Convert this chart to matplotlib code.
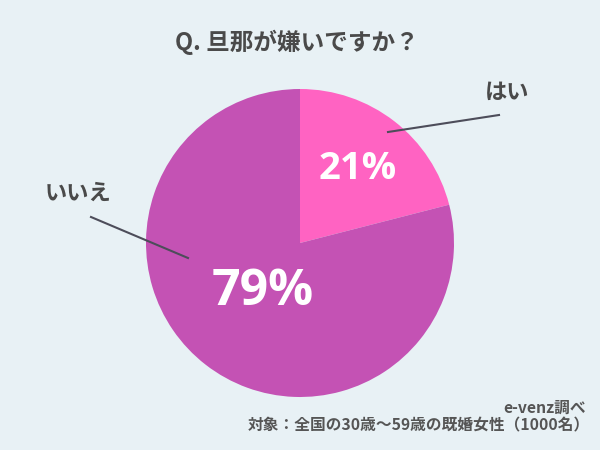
import numpy as np
import matplotlib
matplotlib.use("Agg")
import matplotlib.pyplot as plt

plt.rcParams['font.family'] = ['Noto Sans CJK JP', 'DejaVu Sans']

title = "Q. 旦那が嫌いですか？"
labels = ["はい", "いいえ"]
values = [21, 79]
colors = ["#ff63c2", "#c452b4"]
note1 = "e-venz調べ"
note2 = "対象：全国の30歳〜59歳の既婚女性（1000名）"

bg = "#e8f1f5"
txt = "#4a4a4a"

fig = plt.figure(figsize=(6, 4.5), dpi=100)
fig.patch.set_facecolor(bg)
ax = fig.add_axes([0, 0, 1, 1])

cx, cy, r = 300, 450 - 243, 154
wedges, _ = ax.pie(values, colors=colors, startangle=90, counterclock=False,
                   center=(cx, cy), radius=r, frame=True,
                   wedgeprops=dict(linewidth=0))
ax.set_xlim(0, 600)
ax.set_ylim(0, 450)
ax.set_aspect("equal")
ax.axis("off")

# percentage text inside the slices
dists = [0.61, 0.40]
sizes = [27.5, 36]
start = 0
for v, d, s in zip(values, dists, sizes):
    mid = np.deg2rad(90 - (start + v / 2) / sum(values) * 360)
    ax.text(cx + d * r * np.cos(mid), cy + d * r * np.sin(mid), f"{v}%",
            color="white", fontsize=s, fontweight="bold",
            ha="center", va="center", family=["Open Sans", "DejaVu Sans"])
    start += v

# leader lines and category labels
ax.plot([388, 499], [450 - 132, 450 - 115], color="#4d4d5a", lw=1.5)
ax.plot([188, 91], [450 - 258, 450 - 217], color="#4d4d5a", lw=1.5)
ax.text(507, 450 - 92, labels[0], fontsize=16, fontweight="bold", color=txt,
        ha="center", va="center")
ax.text(78, 450 - 193, labels[1], fontsize=16, fontweight="bold", color=txt,
        ha="center", va="center")

ax.text(297, 450 - 42, title, fontsize=17, fontweight="bold", color=txt,
        ha="center", va="center")

ax.text(586, 450 - 408, note1, fontsize=11.3, fontweight="bold", color="#555555",
        ha="right", va="center")
ax.text(590, 450 - 425, note2, fontsize=11.3, fontweight="bold", color="#555555",
        ha="right", va="center")

fig.savefig("out.png", dpi=100, facecolor=bg)
